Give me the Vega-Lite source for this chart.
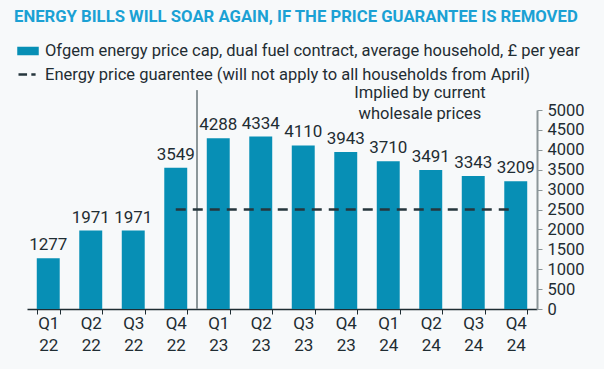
{
  "$schema": "https://vega.github.io/schema/vega-lite/v6.json",
  "width": 510,
  "height": 199,
  "autosize": "none",
  "padding": {"left": 27, "top": 110, "right": 67, "bottom": 60},
  "background": "#f7f9fa",
  "title": {
    "text": "ENERGY BILLS WILL SOAR AGAIN, IF THE PRICE GUARANTEE IS REMOVED",
    "anchor": "start",
    "frame": "group",
    "dx": -13,
    "fontSize": 16.7,
    "font": "Roboto",
    "fontWeight": "bold",
    "color": "#1ba1d4",
    "offset": 14
  },
  "config": {
    "font": "Roboto",
    "view": {"stroke": null},
    "axis": {"grid": false, "labelFont": "Roboto", "labelColor": "#1f2d33"},
    "axisY": {"labelOverlap": false}
  },
  "datasets": {
    "bars": [
      {"q": "Q1 22", "value": 1277, "series": "Ofgem energy price cap, dual fuel contract, average household, £ per year"},
      {"q": "Q2 22", "value": 1971, "series": "Ofgem energy price cap, dual fuel contract, average household, £ per year"},
      {"q": "Q3 22", "value": 1971, "series": "Ofgem energy price cap, dual fuel contract, average household, £ per year"},
      {"q": "Q4 22", "value": 3549, "series": "Ofgem energy price cap, dual fuel contract, average household, £ per year"},
      {"q": "Q1 23", "value": 4288, "series": "Ofgem energy price cap, dual fuel contract, average household, £ per year"},
      {"q": "Q2 23", "value": 4334, "series": "Ofgem energy price cap, dual fuel contract, average household, £ per year"},
      {"q": "Q3 23", "value": 4110, "series": "Ofgem energy price cap, dual fuel contract, average household, £ per year"},
      {"q": "Q4 23", "value": 3943, "series": "Ofgem energy price cap, dual fuel contract, average household, £ per year"},
      {"q": "Q1 24", "value": 3710, "series": "Ofgem energy price cap, dual fuel contract, average household, £ per year"},
      {"q": "Q2 24", "value": 3491, "series": "Ofgem energy price cap, dual fuel contract, average household, £ per year"},
      {"q": "Q3 24", "value": 3343, "series": "Ofgem energy price cap, dual fuel contract, average household, £ per year"},
      {"q": "Q4 24", "value": 3209, "series": "Ofgem energy price cap, dual fuel contract, average household, £ per year"}
    ],
    "guarantee": [
      {"q": "Q4 22", "value": 2500, "series": "Energy price guarentee (will not apply to all households from April)"},
      {"q": "Q4 24", "value": 2500, "series": "Energy price guarentee (will not apply to all households from April)"}
    ],
    "divider": [
      {"q": "Q1 23", "value": 0, "value2": 5500}
    ],
    "note": [
      {"q": "Q2 24", "value": 5416, "text": "Implied by current\nwholesale prices"}
    ]
  },
  "encoding": {
    "x": {
      "field": "q", "type": "ordinal", "sort": null,
      "scale": {"paddingInner": 0.46, "paddingOuter": 0.23},
      "axis": {
        "title": null,
        "labelAngle": 0,
        "labelExpr": "datum.value ? split(datum.value, ' ') : ''",
        "labelFontSize": 17,
        "labelLineHeight": 22,
        "labelPadding": 1,
        "tickBand": "extent",
        "tickSize": 5,
        "tickColor": "#1f2d33",
        "domainColor": "#1f2d33",
        "domainWidth": 1.5
      }
    },
    "y": {
      "field": "value", "type": "quantitative",
      "scale": {"domain": [0, 5000], "nice": false},
      "axis": {
        "orient": "right",
        "title": null,
        "tickCount": 10,
        "format": "d",
        "labelOverlap": false,
        "labelFontSize": 16.5,
        "labelPadding": 5,
        "tickSize": 5,
        "tickColor": "#8c9699",
        "domainColor": "#8c9699",
        "domainWidth": 2
      }
    }
  },
  "layer": [
    {
      "data": {"name": "bars"},
      "mark": {"type": "bar"},
      "encoding": {
        "color": {
          "field": "series", "type": "nominal",
          "scale": {
            "domain": [
              "Ofgem energy price cap, dual fuel contract, average household, £ per year",
              "Energy price guarentee (will not apply to all households from April)"
            ],
            "range": ["#078fb5", "#26363d"]
          },
          "legend": {
            "title": null,
            "orient": "none",
            "legendX": -10,
            "legendY": -70,
            "direction": "vertical",
            "padding": 0,
            "labelFontSize": 16.5,
            "labelColor": "#1f2d33",
            "labelLimit": 0,
            "labelOffset": 6,
            "rowPadding": 3.5,
            "symbolSize": 361,
            "encode": {
              "symbols": {
                "update": {
                  "shape": {"signal": "datum.value == 'Ofgem energy price cap, dual fuel contract, average household, £ per year' ? 'M-1,-0.32H1V0.32H-1Z' : 'M-1,0H-0.1M0.35,0H0.8'"},
                  "fill": {"signal": "datum.value == 'Ofgem energy price cap, dual fuel contract, average household, £ per year' ? '#078fb5' : 'transparent'"},
                  "stroke": {"signal": "datum.value == 'Ofgem energy price cap, dual fuel contract, average household, £ per year' ? 'transparent' : '#26363d'"},
                  "strokeWidth": {"value": 2.5},
                  "opacity": {"value": 1}
                }
              }
            }
          }
        }
      }
    },
    {
      "data": {"name": "bars"},
      "mark": {"type": "text", "baseline": "bottom", "dy": -4, "fontSize": 17, "color": "#1f2d33"},
      "encoding": {
        "text": {"field": "value", "type": "quantitative", "format": "d"}
      }
    },
    {
      "data": {"name": "divider"},
      "mark": {"type": "rule", "color": "#8c9699", "strokeWidth": 2},
      "encoding": {
        "x": {"field": "q", "type": "ordinal", "sort": null, "bandPosition": -0.426},
        "y2": {"field": "value2"}
      }
    },
    {
      "data": {"name": "guarantee"},
      "mark": {"type": "line", "strokeDash": [10, 7], "strokeWidth": 2.5},
      "encoding": {
        "color": {"field": "series", "type": "nominal"}
      }
    },
    {
      "data": {"name": "note"},
      "mark": {"type": "text", "lineBreak": "\n", "lineHeight": 21, "baseline": "middle", "align": "center", "fontSize": 16.5, "color": "#1f2d33"},
      "encoding": {
        "x": {"field": "q", "type": "ordinal", "sort": null, "bandPosition": 0.03},
        "text": {"field": "text"}
      }
    }
  ]
}
